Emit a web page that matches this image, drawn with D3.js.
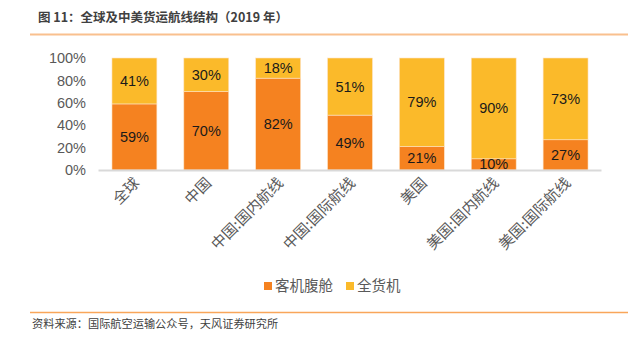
<!DOCTYPE html>
<html><head><meta charset="utf-8">
<script src="https://cdn.jsdelivr.net/npm/d3@7"></script>
<style>
body{margin:0;background:#fff;}
svg{display:block;font-family:"Liberation Sans","Noto Sans CJK SC",sans-serif;}
</style></head>
<body><svg id="c" width="639" height="339"></svg>
<script>
const categories = ["全球","中国","中国:国内航线","中国:国际航线","美国","美国:国内航线","美国:国际航线"];
const bellyValues = [59,70,82,49,21,10,27];
const freighterValues = [41,30,18,51,79,90,73];
const seriesNames = ["客机腹舱","全货机"];
const yTicks = [0,20,40,60,80,100];
const colors = ["#F58220","#FBBA2A"];

const svg = d3.select("#c");
const cjk = '"Noto Sans CJK SC",sans-serif';

// title
svg.append("text").attr("x",38).attr("y",22).attr("font-size",12.5).attr("font-weight","bold")
  .attr("fill","#404040").attr("font-family",cjk).text("图 11：全球及中美货运航线结构（2019 年）");
svg.append("line").attr("x1",30).attr("x2",628).attr("y1",34.5).attr("y2",34.5)
  .attr("stroke","#F9C08E").attr("stroke-width",2);
svg.append("line").attr("x1",30).attr("x2",628).attr("y1",312.5).attr("y2",312.5)
  .attr("stroke","#F9A65A").attr("stroke-width",1.5);
svg.append("text").attr("x",32).attr("y",328).attr("font-size",11.2).attr("fill","#404040")
  .attr("font-family",cjk).text("资料来源：国际航空运输公众号，天风证券研究所");

const x = d3.scaleBand().domain(categories).range([98.5,601.5]).paddingInner(0.375).paddingOuter(0.1875);
const y = d3.scaleLinear().domain([0,100]).range([170,58]);

const data = categories.map((c,i)=>({c, v:[bellyValues[i],freighterValues[i]]}));
const stack = d3.stack().keys([0,1]).value((d,k)=>d.v[k])(data);

// y axis
const ya = svg.append("g").attr("transform","translate(86,0)")
  .call(d3.axisLeft(y).tickValues(yTicks).tickFormat(d=>d+"%").tickSize(0).tickPadding(0));
ya.select(".domain").remove();
ya.selectAll("text").attr("font-size",14.5).attr("fill","#595959").attr("font-family",'"Liberation Sans",sans-serif');

// bars
stack.forEach((s,k)=>{
  svg.append("g").selectAll("rect").data(s).join("rect")
    .attr("x",d=>x(d.data.c)).attr("width",x.bandwidth())
    .attr("y",d=>y(d[1])).attr("height",d=>y(d[0])-y(d[1]))
    .attr("fill",colors[k]).attr("stroke","#fde3c5").attr("stroke-width",0.6);
});
// baseline
svg.append("line").attr("x1",98.5).attr("x2",601.5).attr("y1",y(0)+0.5).attr("y2",y(0)+0.5)
  .attr("stroke","#d9d9d9").attr("stroke-width",2);

// labels
stack.forEach((s,k)=>{
  svg.append("g").selectAll("text").data(s).join("text")
    .attr("x",d=>x(d.data.c)+x.bandwidth()/2)
    .attr("y",d=>(y(d[0])+y(d[1]))/2+5)
    .attr("text-anchor","middle").attr("font-size",14.5).attr("fill","#1a1a1a")
    .text(d=>(d[1]-d[0])+"%");
});

// x axis labels
svg.append("g").selectAll("text").data(categories).join("text")
  .attr("transform",d=>`translate(${x(d)+x.bandwidth()/2+6},184) rotate(-45)`)
  .attr("text-anchor","end").attr("font-size",15).attr("fill","#595959").attr("font-family",cjk)
  .text(d=>d);

// legend
const lg = svg.append("g");
const lx = [264,346];
seriesNames.forEach((n,i)=>{
  lg.append("rect").attr("x",lx[i]).attr("y",282).attr("width",8).attr("height",8).attr("fill",colors[i]);
  lg.append("text").attr("x",lx[i]+11).attr("y",291).attr("font-size",14.5).attr("fill","#595959")
    .attr("font-family",cjk).text(n);
});
</script></body></html>
